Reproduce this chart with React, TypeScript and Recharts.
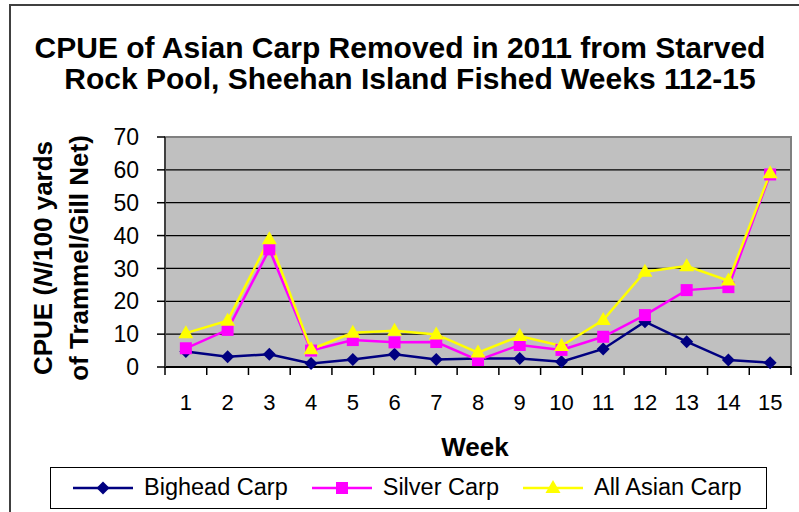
import React from "react";
import {
  CartesianGrid,
  Line,
  LineChart,
  ReferenceArea,
  XAxis,
  YAxis,
} from "recharts";

const FONT = '"Liberation Sans", Arial, sans-serif';

const weeks = [1, 2, 3, 4, 5, 6, 7, 8, 9, 10, 11, 12, 13, 14, 15];
const bighead = [4.7, 3.1, 3.9, 1.1, 2.3, 3.9, 2.3, 2.6, 2.6, 1.6, 5.5, 13.8, 7.7, 2.1, 1.3];
const silver = [5.7, 11.3, 35.8, 5.0, 8.2, 7.5, 7.6, 2.1, 6.7, 5.2, 9.2, 15.8, 23.4, 24.3, 58.6];
const allAsian = [10.3, 14.1, 38.9, 5.4, 10.4, 11.0, 9.9, 4.4, 9.4, 6.4, 14.3, 29.0, 30.7, 26.3, 59.0];
const yTicks = [0, 10, 20, 30, 40, 50, 60, 70];

const data = weeks.map((week, i) => ({
  week,
  bighead: bighead[i],
  silver: silver[i],
  allAsian: allAsian[i],
}));

// tick marks sit on the category edges, labels in the middle
const xTicks = weeks.flatMap((w) => [w - 0.5, w]).concat(weeks[weeks.length - 1] + 0.5);

const COLORS = { bighead: "#000080", silver: "#FF00FF", allAsian: "#FFFF00" };

function Marker({ kind, cx, cy, color }: { kind: string; cx: number; cy: number; color: string }) {
  if (kind === "diamond") {
    return <path d={`M${cx},${cy - 6.5}L${cx + 6.5},${cy}L${cx},${cy + 6.5}L${cx - 6.5},${cy}Z`} fill={color} />;
  }
  if (kind === "square") {
    return <rect x={cx - 6} y={cy - 6} width={12} height={12} fill={color} />;
  }
  return <path d={`M${cx},${cy - 8}L${cx + 7.5},${cy + 5}L${cx - 7.5},${cy + 5}Z`} fill={color} />;
}

const SERIES = [
  { key: "bighead", name: "Bighead Carp", kind: "diamond" },
  { key: "silver", name: "Silver Carp", kind: "square" },
  { key: "allAsian", name: "All Asian Carp", kind: "triangle" },
] as const;

function WeekTick(props: any) {
  const { x, y, payload } = props;
  if (Number.isInteger(payload.value)) {
    return (
      <text x={x} y={y + 43} textAnchor="middle" fill="#000" fontSize={22} fontFamily={FONT}>
        {payload.value}
      </text>
    );
  }
  return <line x1={x} x2={x} y1={y} y2={y + 8} stroke="#000" strokeWidth={1.5} />;
}

export default function App() {
  return (
    <div style={{ position: "absolute", left: 0, top: 0, width: 799, height: 512, background: "#fff", overflow: "hidden", fontFamily: FONT }}>
      <div style={{ position: "absolute", left: 9, top: 4, width: 800, height: 520, borderLeft: "2px solid #404040", borderTop: "2px solid #404040" }} />

      <LineChart
        width={799}
        height={512}
        data={data}
        margin={{ top: 137, right: 8, bottom: 85, left: 105 }}
        style={{ position: "absolute", left: 0, top: 0 }}
      >
        <CartesianGrid vertical={false} stroke="#000" strokeWidth={1.3} fill="#C0C0C0" fillOpacity={1} />
        <ReferenceArea x1={0.5} x2={15.5} y1={0} y2={70} fill="none" stroke="#808080" strokeWidth={2} />
        <XAxis
          dataKey="week"
          type="number"
          domain={[0.5, 15.5]}
          ticks={xTicks}
          interval={0}
          tickSize={0}
          tickMargin={0}
          tickLine={false}
          tick={<WeekTick />}
          axisLine={{ stroke: "#000", strokeWidth: 2 }}
          height={60}
        />
        <YAxis
          domain={[0, 70]}
          ticks={yTicks}
          interval={0}
          width={60}
          tickSize={8}
          tickMargin={18}
          tickLine={{ stroke: "#000", strokeWidth: 1.5 }}
          axisLine={{ stroke: "#404040", strokeWidth: 2 }}
          tick={{ fill: "#000", fontSize: 23, fontFamily: FONT }}
        />
        {SERIES.map((s) => (
          <Line
            key={s.key}
            dataKey={s.key}
            name={s.name}
            stroke={COLORS[s.key]}
            strokeWidth={2.5}
            isAnimationActive={false}
            dot={(p: any) => (
              <Marker key={`${s.key}-${p.index}`} kind={s.kind} cx={p.cx} cy={p.cy} color={COLORS[s.key]} />
            )}
            activeDot={false}
          />
        ))}
      </LineChart>

      <svg width={799} height={512} style={{ position: "absolute", left: 0, top: 0, pointerEvents: "none" }}>
        <text x={400} y={58} textAnchor="middle" fontSize={30} fontWeight="bold" fontFamily={FONT} fill="#000">
          CPUE of Asian Carp Removed in 2011 from Starved
        </text>
        <text x={410} y={89} textAnchor="middle" fontSize={30} fontWeight="bold" fontFamily={FONT} fill="#000">
          Rock Pool, Sheehan Island Fished Weeks 112-15
        </text>
        <text
          x={43}
          y={258}
          transform="rotate(-90, 43, 258)"
          textAnchor="middle"
          dominantBaseline="central"
          fontSize={26}
          fontWeight="bold"
          fontFamily={FONT}
          fill="#000"
        >
          CPUE (<tspan fontStyle="italic">N</tspan>/100 yards
        </text>
        <text
          x={79}
          y={258}
          transform="rotate(-90, 79, 258)"
          textAnchor="middle"
          dominantBaseline="central"
          fontSize={26}
          fontWeight="bold"
          fontFamily={FONT}
          fill="#000"
        >
          of Trammel/Gill Net)
        </text>
        <text x={475} y={456} textAnchor="middle" fontSize={26} fontWeight="bold" fontFamily={FONT} fill="#000">
          Week
        </text>
      </svg>

      <div
        style={{
          position: "absolute",
          left: 50,
          top: 467,
          width: 717,
          height: 42,
          boxSizing: "border-box",
          border: "1.5px solid #000",
          background: "#fff",
          display: "flex",
          alignItems: "center",
          paddingLeft: 22,
        }}
      >
        {SERIES.map((s) => (
          <div key={s.key} style={{ display: "flex", alignItems: "center", marginRight: 24 }}>
            <svg width={60} height={20}>
              <line x1={0} x2={60} y1={10} y2={10} stroke={COLORS[s.key]} strokeWidth={2.5} />
              <Marker kind={s.kind} cx={30} cy={10} color={COLORS[s.key]} />
            </svg>
            <span style={{ marginLeft: 11, fontSize: 23.5, color: "#000", lineHeight: 1 }}>{s.name}</span>
          </div>
        ))}
      </div>
    </div>
  );
}
